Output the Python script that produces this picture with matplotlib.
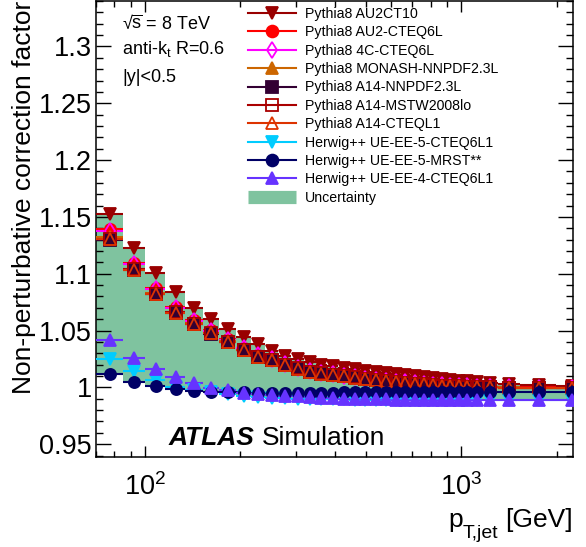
import numpy as np
import matplotlib
matplotlib.use('Agg')
import matplotlib.pyplot as plt
from matplotlib.lines import Line2D
from matplotlib.ticker import NullFormatter, LogLocator

plt.rcParams['font.family'] = 'Liberation Sans'
plt.rcParams['mathtext.fontset'] = 'custom'
plt.rcParams['mathtext.rm'] = 'Liberation Sans'
plt.rcParams['mathtext.it'] = 'Liberation Sans:italic'
plt.rcParams['mathtext.default'] = 'regular'

# pT bin edges [GeV]
edges = [70, 85, 100, 116, 134, 152, 172, 194, 216, 240, 264, 290, 318, 346, 376, 408,
         442, 478, 516, 556, 598, 642, 688, 736, 786, 838, 894, 952, 1012, 1076, 1162,
         1310, 1530, 1992, 2500]

py_au2ct10 = [1.1530, 1.1225, 1.1005, 1.0836, 1.0701, 1.0601, 1.0517, 1.0443, 1.0385, 1.0320,
              1.0279, 1.0250, 1.0223, 1.0200, 1.0185, 1.0172, 1.0158, 1.0146, 1.0134, 1.0124,
              1.0114, 1.0105, 1.0096, 1.0088, 1.0080, 1.0072, 1.0065, 1.0058, 1.0052, 1.0046,
              1.0036, 1.0028, 1.0020, 1.0012]
py_au2cteq = [1.1390, 1.1093, 1.0874, 1.0707, 1.0590, 1.0503, 1.0424, 1.0346, 1.0285, 1.0253,
              1.0207, 1.0177, 1.0146, 1.0131, 1.0121, 1.0106, 1.0093, 1.0080, 1.0070, 1.0060,
              1.0052, 1.0044, 1.0037, 1.0031, 1.0025, 1.0020, 1.0016, 1.0013, 1.0010, 1.0007,
              1.0004, 1.0001, 0.9999, 0.9997]
py_4c = [1.1380, 1.1085, 1.0868, 1.0700, 1.0585, 1.0498, 1.0420, 1.0343, 1.0282, 1.0250,
         1.0204, 1.0174, 1.0143, 1.0128, 1.0118, 1.0104, 1.0091, 1.0078, 1.0068, 1.0059,
         1.0051, 1.0043, 1.0036, 1.0030, 1.0024, 1.0019, 1.0015, 1.0012, 1.0009, 1.0006,
         1.0003, 1.0000, 0.9998, 0.9996]
py_monash = [1.1322, 1.1044, 1.0830, 1.0664, 1.0563, 1.0480, 1.0405, 1.0331, 1.0271, 1.0242,
             1.0198, 1.0168, 1.0138, 1.0124, 1.0115, 1.0101, 1.0089, 1.0077, 1.0067, 1.0058,
             1.0050, 1.0042, 1.0035, 1.0029, 1.0023, 1.0018, 1.0014, 1.0011, 1.0008, 1.0005,
             1.0002, 0.9999, 0.9997, 0.9995]
py_a14nnpdf = [1.1300, 1.1030, 1.0818, 1.0654, 1.0555, 1.0473, 1.0399, 1.0326, 1.0267, 1.0238,
               1.0194, 1.0165, 1.0135, 1.0121, 1.0112, 1.0098, 1.0086, 1.0074, 1.0064, 1.0055,
               1.0047, 1.0039, 1.0032, 1.0026, 1.0020, 1.0015, 1.0011, 1.0008, 1.0005, 1.0002,
               0.9999, 0.9996, 0.9994, 0.9992]
py_a14mstw = [1.1310, 1.1038, 1.0825, 1.0660, 1.0560, 1.0477, 1.0402, 1.0329, 1.0269, 1.0240,
              1.0196, 1.0167, 1.0137, 1.0123, 1.0113, 1.0099, 1.0087, 1.0075, 1.0065, 1.0056,
              1.0048, 1.0040, 1.0033, 1.0027, 1.0021, 1.0016, 1.0012, 1.0009, 1.0006, 1.0003,
              1.0000, 0.9997, 0.9995, 0.9993]
py_a14cteq = [1.1305, 1.1034, 1.0822, 1.0657, 1.0557, 1.0475, 1.0400, 1.0327, 1.0268, 1.0239,
              1.0195, 1.0166, 1.0136, 1.0122, 1.0112, 1.0098, 1.0086, 1.0074, 1.0064, 1.0055,
              1.0047, 1.0039, 1.0032, 1.0026, 1.0020, 1.0015, 1.0011, 1.0008, 1.0005, 1.0002,
              0.9999, 0.9996, 0.9994, 0.9992]
hw_ee5_cteq = [1.0247, 1.0144, 1.0062, 1.0004, 0.9975, 0.9955, 0.9940, 0.9928, 0.9918, 0.9910,
               0.9905, 0.9901, 0.9898, 0.9896, 0.9895, 0.9894, 0.9893, 0.9893, 0.9893, 0.9893,
               0.9893, 0.9893, 0.9893, 0.9893, 0.9893, 0.9893, 0.9893, 0.9893, 0.9893, 0.9893,
               0.9893, 0.9893, 0.9893, 0.9893]
hw_ee5_mrst = [1.0115, 1.0048, 1.0012, 0.9986, 0.9968, 0.9960, 0.9957, 0.9955, 0.9954, 0.9953,
               0.9953, 0.9953, 0.9953, 0.9954, 0.9954, 0.9955, 0.9955, 0.9955, 0.9956, 0.9956,
               0.9956, 0.9957, 0.9957, 0.9957, 0.9958, 0.9958, 0.9958, 0.9959, 0.9959, 0.9959,
               0.9960, 0.9960, 0.9960, 0.9960]
hw_ee4_cteq = [1.0414, 1.0262, 1.0159, 1.0091, 1.0039, 0.9998, 0.9975, 0.9954, 0.9945, 0.9937,
               0.9928, 0.9922, 0.9916, 0.9910, 0.9905, 0.9902, 0.9900, 0.9898, 0.9896, 0.9894,
               0.9893, 0.9892, 0.9891, 0.9890, 0.9890, 0.9889, 0.9889, 0.9888, 0.9888, 0.9888,
               0.9887, 0.9887, 0.9887, 0.9887]

series = [
    ('Pythia8 AU2CT10', py_au2ct10, '#990000', 'v', True),
    ('Pythia8 AU2-CTEQ6L', py_au2cteq, '#ff0000', 'o', True),
    ('Pythia8 4C-CTEQ6L', py_4c, '#ff00ff', 'd', False),
    ('Pythia8 MONASH-NNPDF2.3L', py_monash, '#cc6600', '^', True),
    ('Pythia8 A14-NNPDF2.3L', py_a14nnpdf, '#330033', 's', True),
    ('Pythia8 A14-MSTW2008lo', py_a14mstw, '#aa0000', 's', False),
    ('Pythia8 A14-CTEQL1', py_a14cteq, '#dd3300', '^', False),
    ('Herwig++ UE-EE-5-CTEQ6L1', hw_ee5_cteq, '#00ccff', 'v', True),
    ('Herwig++ UE-EE-5-MRST**', hw_ee5_mrst, '#000066', 'o', True),
    ('Herwig++ UE-EE-4-CTEQ6L1', hw_ee4_cteq, '#6633ff', '^', True),
]
band_color = '#7fc39f'

edges = np.array(edges, dtype=float)
centers = 0.5 * (edges[:-1] + edges[1:])
xerr = [centers - edges[:-1], edges[1:] - centers]

allv = np.array([s[1] for s in series])
lo = allv.min(axis=0)
hi = allv.max(axis=0)

fig = plt.figure(figsize=(5.86, 5.47), dpi=100)
ax = fig.add_axes([96 / 586, 1 - 456.7 / 547, 476.7 / 586, 455.7 / 547])

ax.fill_between(edges, np.append(lo, lo[-1]), np.append(hi, hi[-1]), step='post',
                color=band_color, lw=0, zorder=1)

handles = []
for label, vals, col, mk, filled in series:
    ax.errorbar(centers, vals, xerr=xerr, fmt=mk, color=col, ms=8, mew=1.3,
                mfc=col if filled else 'none', ecolor=col, elinewidth=1.5, capsize=0,
                zorder=3)
    handles.append(Line2D([], [], color=col, marker=mk, ms=8.5, lw=1.5, mew=1.3,
                          mfc=col if filled else 'none', label=label))
handles.append(Line2D([], [], color=band_color, lw=9.5, solid_capstyle='butt',
                      label='Uncertainty'))

ax.set_xscale('log')
ax.set_xlim(70, 2250)
ax.set_ylim(0.939, 1.340)
ax.set_yticks([0.95, 1.0, 1.05, 1.1, 1.15, 1.2, 1.25, 1.3])
ax.set_yticklabels(['0.95', '1', '1.05', '1.1', '1.15', '1.2', '1.25', '1.3'])
ax.yaxis.set_minor_locator(matplotlib.ticker.MultipleLocator(0.01))
ax.xaxis.set_minor_locator(LogLocator(base=10, subs=np.arange(2, 10)))
ax.xaxis.set_minor_formatter(NullFormatter())

ax.tick_params(which='both', direction='in', top=True, right=True, labelsize=19.5, width=1)
ax.tick_params(axis='y', which='major', length=10.5, pad=3)
ax.tick_params(axis='y', which='minor', length=5)
ax.tick_params(axis='x', which='major', length=8, pad=12)
ax.tick_params(axis='x', which='minor', length=4.3)
for sp in ax.spines.values():
    sp.set_linewidth(1.1)

ax.set_ylabel('Non-perturbative correction factor', fontsize=19, loc='top')
ax.yaxis.set_label_coords(-0.125, 1.0)

# x title built right to left: "[GeV]", subscript "T,jet", then "p"
gev = ax.text(1.0, -0.155, '[GeV]', transform=ax.transAxes, fontsize=19,
              ha='right', va='baseline')
sub = ax.annotate('T,jet', xy=(0, 0), xycoords=gev, xytext=(-5, -7),
                  textcoords='offset points', fontsize=14, ha='right', va='bottom')
ax.annotate('p', xy=(0, 0), xycoords=sub, xytext=(0, 7),
            textcoords='offset points', fontsize=19, ha='right', va='bottom')

ax.text(0.0545, 0.938, r'√$\overline{\rm s}$ = 8 TeV', transform=ax.transAxes, fontsize=13, va='baseline')
ax.text(0.0545, 0.883, r'anti-k$_{t}$ R=0.6', transform=ax.transAxes, fontsize=13, va='baseline')
ax.text(0.0545, 0.823, '|y|<0.5', transform=ax.transAxes, fontsize=13, va='baseline')

atl = ax.text(0.153, 0.0256, 'ATLAS', transform=ax.transAxes, fontsize=19,
              fontweight='bold', fontstyle='italic', va='baseline')
ax.annotate('Simulation', xy=(1, 0), xycoords=atl, xytext=(5, 0),
            textcoords='offset points', fontsize=19, va='bottom')

ax.legend(handles=handles, loc='upper left', bbox_to_anchor=(0.319, 0.987),
          frameon=False, fontsize=10.2, borderpad=0, borderaxespad=0,
          handlelength=3.4, handletextpad=0.63, labelspacing=0.31)

fig.savefig('out.png', dpi=100)
